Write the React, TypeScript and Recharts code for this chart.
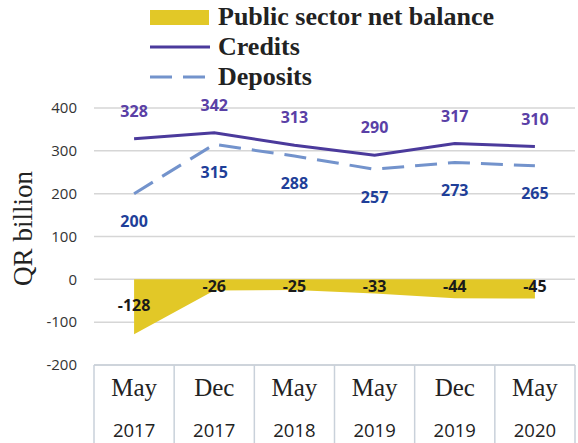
import {
  Area,
  CartesianGrid,
  ComposedChart,
  LabelList,
  Legend,
  Line,
  XAxis,
  YAxis,
} from "recharts";

const months = ["May", "Dec", "May", "May", "Dec", "May"];
const years = ["2017", "2017", "2018", "2019", "2019", "2020"];
const netBalance = [-128, -26, -25, -33, -44, -45];
const credits = [328, 342, 313, 290, 317, 310];
const deposits = [200, 315, 288, 257, 273, 265];
const yTicks = [-200, -100, 0, 100, 200, 300, 400];

const W = 578;
const H = 443;
const M = { top: 108, right: 3, bottom: 0, left: 0 };
const Y_AXIS_W = 94;
const X_AXIS_H = 78;
const Y_MIN = -200;
const Y_MAX = 400;
const PLOT_TOP = M.top;
const PLOT_BOTTOM = H - M.bottom - X_AXIS_H;
const CELL_W = (W - M.left - M.right - Y_AXIS_W) / months.length;
const PX_PER_UNIT = (PLOT_BOTTOM - PLOT_TOP) / (Y_MAX - Y_MIN);
const zeroY = PLOT_TOP + Y_MAX * PX_PER_UNIT;

const YELLOW = "#e2c827";
const CREDIT = "#4b3a9c";
const CREDIT_LABEL = "#5a40a6";
const DEPOSIT = "#7393cc";
const DEPOSIT_LABEL = "#1f3f99";
const BORDER = "#c9d1da";
const labelFont = "'Open Sans', 'DejaVu Sans', sans-serif";
const serif = "'Liberation Serif', 'Times New Roman', serif";

const data = months.map((m, i) => ({
  key: `${m} ${years[i]}`,
  month: m,
  year: years[i],
  net: netBalance[i],
  credits: credits[i],
  deposits: deposits[i],
}));

function TableTick(props: any) {
  const { x, payload, index } = props;
  const d = data[index] ?? data.find((r) => r.key === payload.value);
  const left = x - CELL_W / 2;
  return (
    <g>
      <line x1={left} y1={PLOT_BOTTOM} x2={left} y2={H} stroke={BORDER} strokeWidth={1.5} />
      {index === months.length - 1 && (
        <line x1={left + CELL_W} y1={PLOT_BOTTOM} x2={left + CELL_W} y2={H} stroke={BORDER} strokeWidth={1.5} />
      )}
      <text x={x} y={PLOT_BOTTOM + 31} textAnchor="middle" fontFamily={serif} fontSize={25} fill="#222">
        {d?.month}
      </text>
      <text x={x} y={PLOT_BOTTOM + 72} textAnchor="middle" fontFamily={labelFont} fontSize={18.5} fill="#222">
        {d?.year}
      </text>
    </g>
  );
}

// net balance labels sit just under the zero line unless the point is far below it
function NetLabel(props: any) {
  const { x, value } = props;
  const pointY = zeroY - value * PX_PER_UNIT;
  const ly = Math.max(pointY - 29, zeroY + 7);
  return (
    <text
      x={x}
      y={ly}
      textAnchor="middle"
      dominantBaseline="central"
      fontFamily={labelFont}
      fontWeight={700}
      fontSize={16}
      fill="#1a1a1a"
    >
      {value}
    </text>
  );
}

function LegendBox() {
  const items = [
    { name: "Public sector net balance", kind: "area" },
    { name: "Credits", kind: "line" },
    { name: "Deposits", kind: "dash" },
  ];
  return (
    <div>
      {items.map((it) => (
        <div key={it.name} style={{ display: "flex", alignItems: "center", height: 30 }}>
          <svg width={68} height={30} style={{ display: "block", flex: "none" }}>
            {it.kind === "area" && <rect x={0} y={8} width={59} height={15} fill={YELLOW} />}
            {it.kind === "line" && <line x1={0} y1={15} x2={60} y2={15} stroke={CREDIT} strokeWidth={3} />}
            {it.kind === "dash" && (
              <line x1={0} y1={15} x2={60} y2={15} stroke={DEPOSIT} strokeWidth={3} strokeDasharray="22 11" />
            )}
          </svg>
          <span
            style={{
              fontFamily: serif,
              fontWeight: 700,
              fontSize: 26,
              lineHeight: "30px",
              color: "#222",
              whiteSpace: "nowrap",
            }}
          >
            {it.name}
          </span>
        </div>
      ))}
    </div>
  );
}

export default function App() {
  return (
    <div style={{ position: "fixed", top: 0, left: 0, width: W, height: H, background: "#fff", overflow: "hidden" }}>
      <ComposedChart width={W} height={H} data={data} margin={M}>
        <Legend
          layout="horizontal"
          verticalAlign="middle"
          align="center"
          content={() => <LegendBox />}
          wrapperStyle={{ top: 2, left: 150, width: 420 }}
        />
        <CartesianGrid vertical={false} stroke="#d6d6d6" strokeWidth={1.5} />
        <XAxis
          dataKey="key"
          scale="band"
          height={X_AXIS_H}
          axisLine={{ stroke: BORDER, strokeWidth: 1.5 }}
          tickLine={false}
          tickSize={0}
          tickMargin={0}
          interval={0}
          tick={<TableTick />}
        />
        <YAxis
          width={Y_AXIS_W}
          domain={[Y_MIN, Y_MAX]}
          ticks={yTicks}
          axisLine={false}
          tickLine={false}
          tickSize={8}
          tickMargin={9}
          tick={{ fontFamily: labelFont, fontSize: 15, fill: "#333" }}
          label={{
            value: "QR billion",
            angle: -90,
            position: "insideLeft",
            offset: 22,
            dy: -8,
            style: { textAnchor: "middle", fontFamily: serif, fontSize: 27, fill: "#222" },
          }}
        />
        <Area dataKey="net" type="linear" fill={YELLOW} fillOpacity={1} stroke="none" isAnimationActive={false}>
          <LabelList dataKey="net" content={<NetLabel />} />
        </Area>
        <Line
          dataKey="credits"
          type="linear"
          stroke={CREDIT}
          strokeWidth={3}
          dot={false}
          isAnimationActive={false}
        >
          <LabelList
            dataKey="credits"
            position="top"
            offset={22}
            style={{ fontFamily: labelFont, fontWeight: 700, fontSize: 16, fill: CREDIT_LABEL }}
          />
        </Line>
        <Line
          dataKey="deposits"
          type="linear"
          stroke={DEPOSIT}
          strokeWidth={3}
          strokeDasharray="22 11"
          dot={false}
          isAnimationActive={false}
        >
          <LabelList
            dataKey="deposits"
            position="bottom"
            offset={22}
            style={{ fontFamily: labelFont, fontWeight: 700, fontSize: 16, fill: DEPOSIT_LABEL }}
          />
        </Line>
      </ComposedChart>
    </div>
  );
}
